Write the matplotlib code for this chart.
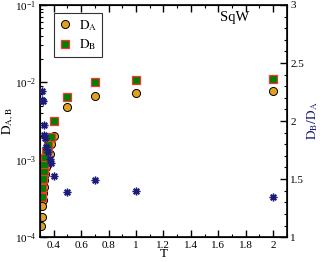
import numpy as np
import matplotlib
matplotlib.use("Agg")
import matplotlib.pyplot as plt
from matplotlib.ticker import MultipleLocator, FuncFormatter, LogLocator, NullFormatter

plt.rcParams['font.family'] = ['Liberation Serif', 'DejaVu Serif']
plt.rcParams['mathtext.fontset'] = 'stix'

# D_A (circles)
T_A = [2, 1, 0.7, 0.5, 0.4, 0.381, 0.371, 0.356, 0.347, 0.340, 0.332, 0.327,
       0.323, 0.320, 0.318, 0.316, 0.311]
D_A = [7.8e-3, 7.2e-3, 6.7e-3, 4.75e-3, 2.0e-3, 1.59e-3, 1.2e-3, 9.9e-4, 8.1e-4,
       6.6e-4, 5.5e-4, 4.5e-4, 3.7e-4, 3.0e-4, 2.5e-4, 1.8e-4, 1.4e-4]

# D_B (squares)
T_B = [2, 1, 0.7, 0.5, 0.4, 0.378, 0.356, 0.347, 0.340, 0.332, 0.327, 0.323,
       0.318, 0.313]
D_B = [1.11e-2, 1.07e-2, 1.0e-2, 6.5e-3, 3.15e-3, 1.94e-3, 1.55e-3, 1.26e-3,
       1.04e-3, 8.5e-4, 6.9e-4, 5.7e-4, 4.3e-4, 3.3e-4]

# D_B/D_A (stars, right axis)
T_R = [2, 1, 0.7, 0.5, 0.4, 0.378, 0.371, 0.356, 0.347, 0.340, 0.332, 0.328,
       0.323, 0.318, 0.313]
ratio = [1.345, 1.397, 1.49, 1.388, 1.526, 1.635, 1.67, 1.735, 1.78, 1.85, 1.88,
         1.966, 2.17, 2.18, 2.26]

navy = '#1c1c7c'

fig = plt.figure(figsize=(3.22, 2.62), dpi=100)
ax = fig.add_axes([0.124, 0.095, 0.767, 0.886])

ax.plot(T_A, D_A, 'o', ms=5.8, mfc='#e0a020', mec='black', mew=0.7,
        ls='none', label=r'$\mathrm{D_A}$', zorder=3)
ax.plot(T_B, D_B, 's', ms=5.6, mfc='#008000', mec='#ff3030', mew=0.9,
        ls='none', label=r'$\mathrm{D_B}$', zorder=4)

ax.set_yscale('log')
ax.set_xlim(0.3, 2.1)
ax.set_ylim(1e-4, 1e-1)
ax.xaxis.set_major_locator(MultipleLocator(0.2))
ax.xaxis.set_minor_locator(MultipleLocator(0.1))
ax.xaxis.set_major_formatter(FuncFormatter(lambda v, p: '%g' % v if v > 0.35 else ''))
ax.yaxis.set_major_locator(LogLocator(base=10))
ax.yaxis.set_minor_locator(LogLocator(base=10, subs=np.arange(2, 10)))
ax.yaxis.set_minor_formatter(NullFormatter())
ax.tick_params(which='both', direction='in', top=True, right=False, labelsize=8, pad=2.5)
ax.tick_params(which='major', length=5, width=1)
ax.tick_params(which='minor', length=2.5, width=0.8)
for s in ax.spines.values():
    s.set_linewidth(1.2)

ax.set_xlabel('T', fontsize=9.5, labelpad=-1)
ax.set_ylabel(r'$\mathrm{D_{A,B}}$', fontsize=9.5, labelpad=-1)

leg = ax.legend(loc='upper left', bbox_to_anchor=(0.055, 0.965), fontsize=9.5,
                frameon=True, fancybox=False, edgecolor='black',
                handlelength=1.0, handletextpad=0.6, borderpad=0.35,
                labelspacing=0.35, borderaxespad=0)
leg.get_frame().set_linewidth(0.8)

ax.text(0.79, 0.93, 'SqW', transform=ax.transAxes, fontsize=10.5, ha='center')

ax2 = ax.twinx()
ax2.plot(T_R, ratio, ls='none', marker=(8, 2, 0), ms=5.5, mec=navy, mew=1.0, zorder=5)
ax2.set_ylim(1, 3)
ax2.yaxis.set_major_locator(MultipleLocator(0.5))
ax2.yaxis.set_minor_locator(MultipleLocator(0.1))
ax2.yaxis.set_major_formatter(FuncFormatter(lambda v, p: '%g' % v))
ax2.tick_params(which='both', direction='in', labelsize=8, pad=2.5)
ax2.tick_params(which='major', length=5, width=1)
ax2.tick_params(which='minor', length=2.5, width=0.8)
ax2.set_ylabel(r'$\mathrm{D_B/D_A}$', fontsize=9.5, color=navy, labelpad=1)

fig.savefig('out.png', dpi=100)
